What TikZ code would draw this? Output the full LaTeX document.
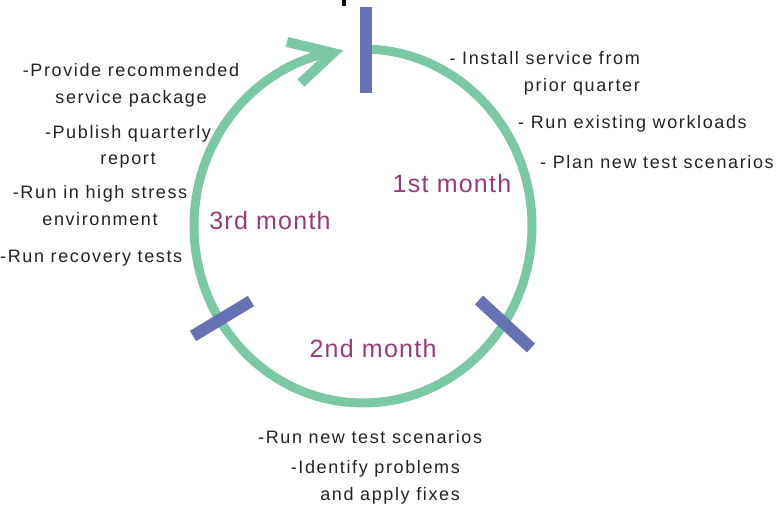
\documentclass[tikz,border=0pt]{standalone}
\usepackage{fontspec}
\setmainfont{Liberation Sans}
\newfontfamily\bodyfont[LetterSpace=9]{Liberation Sans}
\newfontfamily\labelfont[LetterSpace=5]{Liberation Sans}
\definecolor{ringgreen}{RGB}{122,200,164}
\definecolor{barblue}{RGB}{102,114,180}
\definecolor{monthpurple}{RGB}{154,58,122}
\definecolor{txtgray}{RGB}{35,35,35}
\tikzset{
  ring/.style={draw=ringgreen, line width=9pt},
  tipstyle/.style={draw=ringgreen, line width=10pt, line cap=butt, line join=miter},
  bar/.style={draw=barblue, line width=12pt, line cap=butt},
  note/.style={inner sep=0pt, text=txtgray, font=\bodyfont\fontsize{18}{26.5}\selectfont},
  month/.style={inner sep=0pt, text=monthpurple, font=\labelfont\fontsize{25}{30}\selectfont},
}
\begin{document}
\begin{tikzpicture}[x=1pt,y=-1pt]
\useasboundingbox (0,0) rectangle (776,508);
% cropped fragment at top
\fill[black] (342,0) rectangle (346,6);
% ring
\coordinate (ringstart) at (368.9,49.1);
\draw[ring] (ringstart) arc[start angle=-88, end angle=258, x radius=169, y radius=177];
% arrow head
\coordinate (tip) at (333,53);
\coordinate (armA) at (287,42);
\coordinate (armB) at (301,83);
\draw[tipstyle] (armA) -- (tip) -- (armB);
% bars
\coordinate (topA) at (366,7);
\coordinate (topB) at (366,93);
\coordinate (rightA) at (479,300);
\coordinate (rightB) at (531,348);
\coordinate (leftA) at (193,336);
\coordinate (leftB) at (251,301);
\draw[bar] (topA) -- (topB);
\draw[bar] (rightA) -- (rightB);
\draw[bar] (leftA) -- (leftB);
% month labels
\node[month] (m1) at (452,184) {1st month};
\node[month] (m3) at (270,221) {3rd month};
\node[month] (m2) at (373,349) {2nd month};
% left notes
\node[note, align=center] (provide) at (131,85.5) {-Provide recommended\\service package};
\node[note, align=center] (publish) at (128,147) {-Publish quarterly\\report};
\node[note, align=center] (stress) at (100,205.5) {-Run in high stress\\environment};
\node[note, anchor=west] (recovery) at (0,258) {-Run recovery tests};
% right notes
\node[note, align=right, anchor=east] (install) at (640,73.5) {- Install service from\\prior quarter};
\node[note, anchor=west] (existing) at (518,124) {- Run existing workloads};
\node[note, anchor=west] (plan) at (540,162) {- Plan new test scenarios};
% bottom notes
\node[note, anchor=west] (runnew) at (258,437) {-Run new test scenarios};
\node[note, align=right, anchor=east] (identify) at (460,482.5) {-Identify problems\\and apply fixes};
\end{tikzpicture}
\end{document}
